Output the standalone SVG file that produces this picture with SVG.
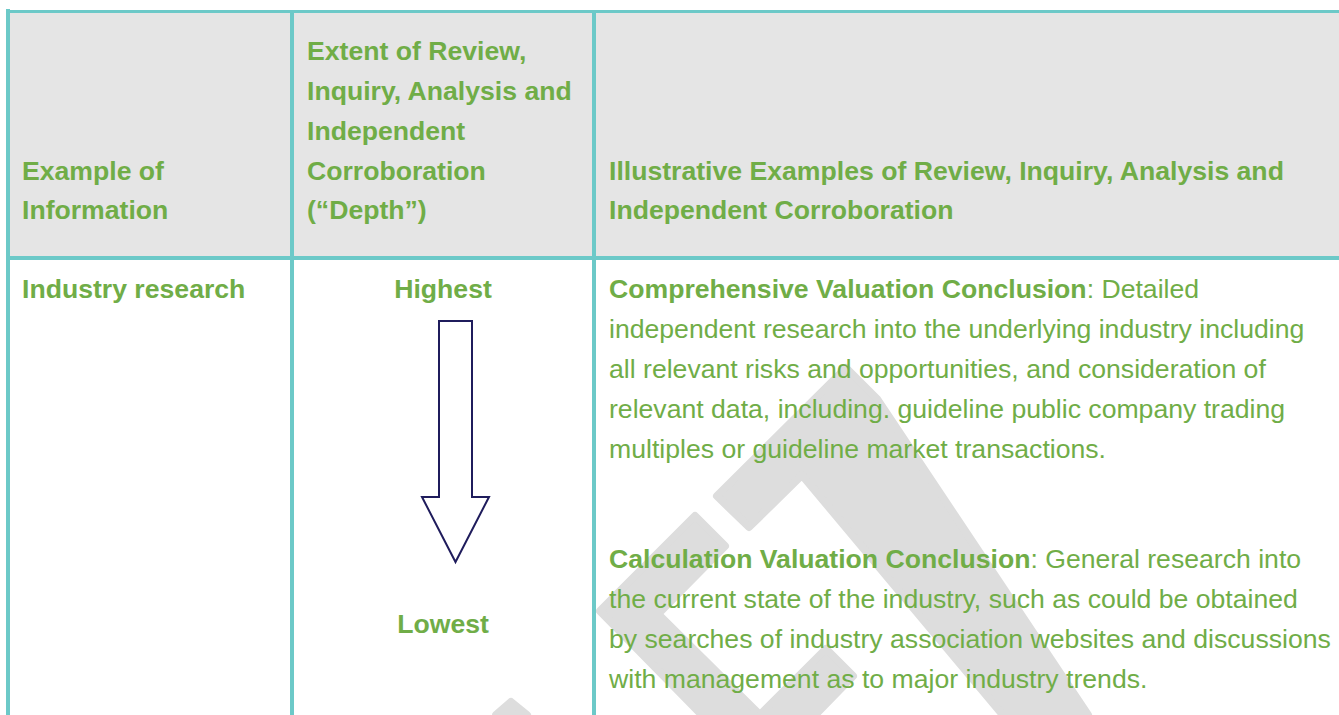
<svg xmlns="http://www.w3.org/2000/svg" width="1339" height="715" viewBox="0 0 1339 715">
  <style>
    text { font-family: "Liberation Sans", Arial, sans-serif; font-size: 25px; fill: #70ad47; }
    .b { font-weight: bold; }
    .bw { font-weight: bold; }
    .mid { text-anchor: middle; }
    .grid { stroke: #6cc9c8; fill: none; }
    .wm { fill: #dddddd; stroke: #dddddd; stroke-width: 8; stroke-linejoin: round; }
  </style>
  <defs>
    <clipPath id="bodyClip">
      <rect x="0" y="260" width="1339" height="455"/>
    </clipPath>
  </defs>

  <!-- backgrounds -->
  <rect x="0" y="0" width="1339" height="715" fill="#ffffff"/>
  <rect x="8" y="11" width="1331" height="247" fill="#e5e5e5"/>

  <!-- watermark -->
  <g id="watermark" clip-path="url(#bodyClip)">
    <polygon class="wm" points="846,368 877,399 1088,715 1003,715 802,475 749,527 717,496"/>
    <polygon class="wm" points="695,516 725,546 658,614 760,715 702,715 600,611"/>
    <polygon class="wm" points="826,649 853,676 815,715 760,715"/>
    <polygon class="wm" points="496,715 511,702 527,715"/>
  </g>

  <!-- grid lines -->
  <g id="table-grid">
    <line class="grid" x1="6" y1="11.5" x2="1339" y2="11.5" stroke-width="3"/>
    <line class="grid" x1="8" y1="9" x2="8" y2="715" stroke-width="4"/>
    <line class="grid" x1="292" y1="10" x2="292" y2="715" stroke-width="4"/>
    <line class="grid" x1="594" y1="10" x2="594" y2="715" stroke-width="4"/>
    <line class="grid" x1="6" y1="258" x2="1339" y2="258" stroke-width="4"/>
  </g>

  <!-- header cells -->
  <g id="header-example">
    <text class="b" transform="translate(22,0) scale(1.065,1)"><tspan x="0" y="180">Example of</tspan><tspan x="0" y="219">Information</tspan></text>
  </g>
  <g id="header-depth">
    <text class="b" transform="translate(307,0) scale(1.065,1)"><tspan x="0" y="60">Extent of Review,</tspan><tspan x="0" y="100">Inquiry, Analysis and</tspan><tspan x="0" y="140">Independent</tspan><tspan x="0" y="180">Corroboration</tspan><tspan x="0" y="219">(“Depth”)</tspan></text>
  </g>
  <g id="header-examples">
    <text class="b" transform="translate(609,0) scale(1.065,1)"><tspan x="0" y="180">Illustrative Examples of Review, Inquiry, Analysis and</tspan><tspan x="0" y="219">Independent Corroboration</tspan></text>
  </g>

  <!-- body cells -->
  <g id="cell-industry-research">
    <text class="b" transform="translate(22,0) scale(1.065,1)"><tspan x="0" y="298">Industry research</tspan></text>
  </g>
  <g id="cell-depth">
    <text class="b mid" transform="translate(443,0) scale(1.065,1)"><tspan x="0" y="298">Highest</tspan></text>
    <text class="b mid" transform="translate(443,0) scale(1.065,1)"><tspan x="0" y="633">Lowest</tspan></text>
  </g>
  <g id="cell-illustrative">
    <text transform="translate(609,0) scale(1.065,1)">
      <tspan x="0" y="298"><tspan class="bw">Comprehensive Valuation Conclusion</tspan>: Detailed</tspan>
      <tspan x="0" y="338">independent research into the underlying industry including</tspan>
      <tspan x="0" y="378">all relevant risks and opportunities, and consideration of</tspan>
      <tspan x="0" y="418">relevant data, including. guideline public company trading</tspan>
      <tspan x="0" y="458">multiples or guideline market transactions.</tspan>
      <tspan x="0" y="568"><tspan class="bw">Calculation Valuation Conclusion</tspan>: General research into</tspan>
      <tspan x="0" y="608">the current state of the industry, such as could be obtained</tspan>
      <tspan x="0" y="648">by searches of industry association websites and discussions</tspan>
      <tspan x="0" y="688">with management as to major industry trends.</tspan>
    </text>
  </g>

  <!-- connectors -->
  <g id="connectors">
    <polygon id="depth-arrow" points="439,321 472,321 472,497 489,497 455.5,562 422,497 439,497" fill="#ffffff" stroke="#1f1c5c" stroke-width="2" stroke-linejoin="miter"/>
  </g>
</svg>
